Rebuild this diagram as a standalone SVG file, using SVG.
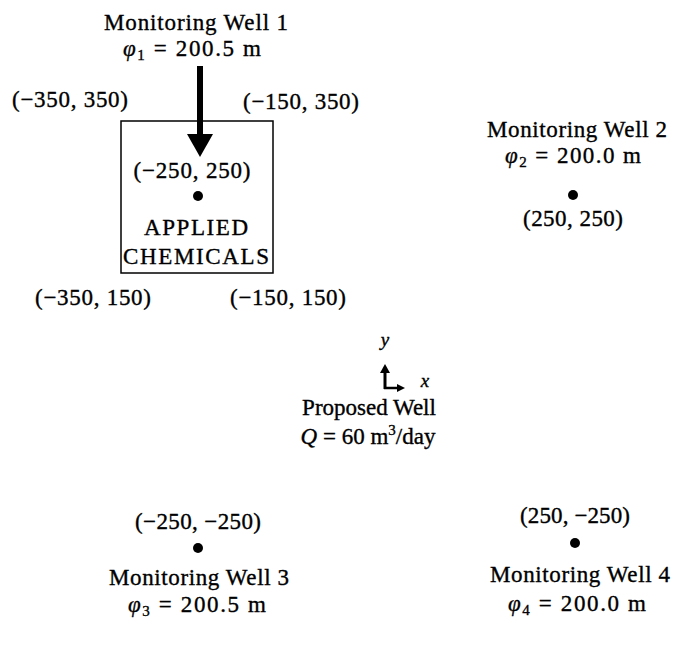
<svg xmlns="http://www.w3.org/2000/svg" width="678" height="645" viewBox="0 0 678 645">
<style>
text{font-family:"Liberation Serif","DejaVu Serif",serif;font-size:23px;fill:#000;stroke:#000;stroke-width:0.35;text-anchor:middle}
.i{font-style:italic}
.s{font-size:15px}
.dot{fill:#000}
</style>
<rect width="678" height="645" fill="#fff"/>
<g id="connectors">
<line x1="200" y1="66" x2="200" y2="134" stroke="#000" stroke-width="6"/>
<path d="M187,134 L213,134 L200,157 Z" fill="#000"/>
</g>
<g id="well1">
<text x="196" y="30" textLength="184">Monitoring Well 1</text>
<text x="192" y="56" textLength="138"><tspan class="i">φ</tspan><tspan class="s" dy="4">1</tspan><tspan dy="-4"> = 200.5 m</tspan></text>
</g>
<g id="applied-chemicals">
<rect x="121" y="121" width="152" height="152" fill="none" stroke="#000" stroke-width="1.5"/>
<text x="70" y="107" textLength="116">(−350, 350)</text>
<text x="301" y="109" textLength="116">(−150, 350)</text>
<text x="192" y="178" textLength="117">(−250, 250)</text>
<circle class="dot" cx="198" cy="196" r="5"/>
<text x="196" y="235" textLength="104">APPLIED</text>
<text x="196" y="264" textLength="146">CHEMICALS</text>
<text x="93" y="305" textLength="116">(−350, 150)</text>
<text x="288" y="305" textLength="116">(−150, 150)</text>
</g>
<g id="well2">
<text x="577" y="137" textLength="180">Monitoring Well 2</text>
<text x="573" y="163" textLength="136"><tspan class="i">φ</tspan><tspan class="s" dy="4">2</tspan><tspan dy="-4"> = 200.0 m</tspan></text>
<circle class="dot" cx="573" cy="195" r="5"/>
<text x="573" y="226" textLength="100">(250, 250)</text>
</g>
<g id="proposed-well">
<text class="i" x="385" y="346" style="font-size:19px">y</text>
<line x1="385" y1="389" x2="385" y2="372" stroke="#000" stroke-width="3"/>
<path d="M380,373 L385,364 L390,373 Z" fill="#000"/>
<line x1="384" y1="388" x2="398" y2="388" stroke="#000" stroke-width="2.5"/>
<path d="M397,384 L405,388 L397,392 Z" fill="#000"/>
<text class="i" x="425" y="387" style="font-size:19px">x</text>
<text x="369" y="415">Proposed Well</text>
<text x="368" y="444"><tspan class="i">Q</tspan> = 60  m<tspan class="s" dy="-9">3</tspan><tspan dy="9">/day</tspan></text>
</g>
<g id="well3">
<text x="198" y="529" textLength="126">(−250, −250)</text>
<circle class="dot" cx="198" cy="548" r="5"/>
<text x="199" y="585" textLength="180">Monitoring Well 3</text>
<text x="197" y="612" textLength="138"><tspan class="i">φ</tspan><tspan class="s" dy="4">3</tspan><tspan dy="-4"> = 200.5 m</tspan></text>
</g>
<g id="well4">
<text x="575" y="523" textLength="110">(250, −250)</text>
<circle class="dot" cx="575" cy="543" r="5"/>
<text x="580" y="582" textLength="180">Monitoring Well 4</text>
<text x="577" y="611" textLength="138"><tspan class="i">φ</tspan><tspan class="s" dy="4">4</tspan><tspan dy="-4"> = 200.0 m</tspan></text>
</g>
</svg>
